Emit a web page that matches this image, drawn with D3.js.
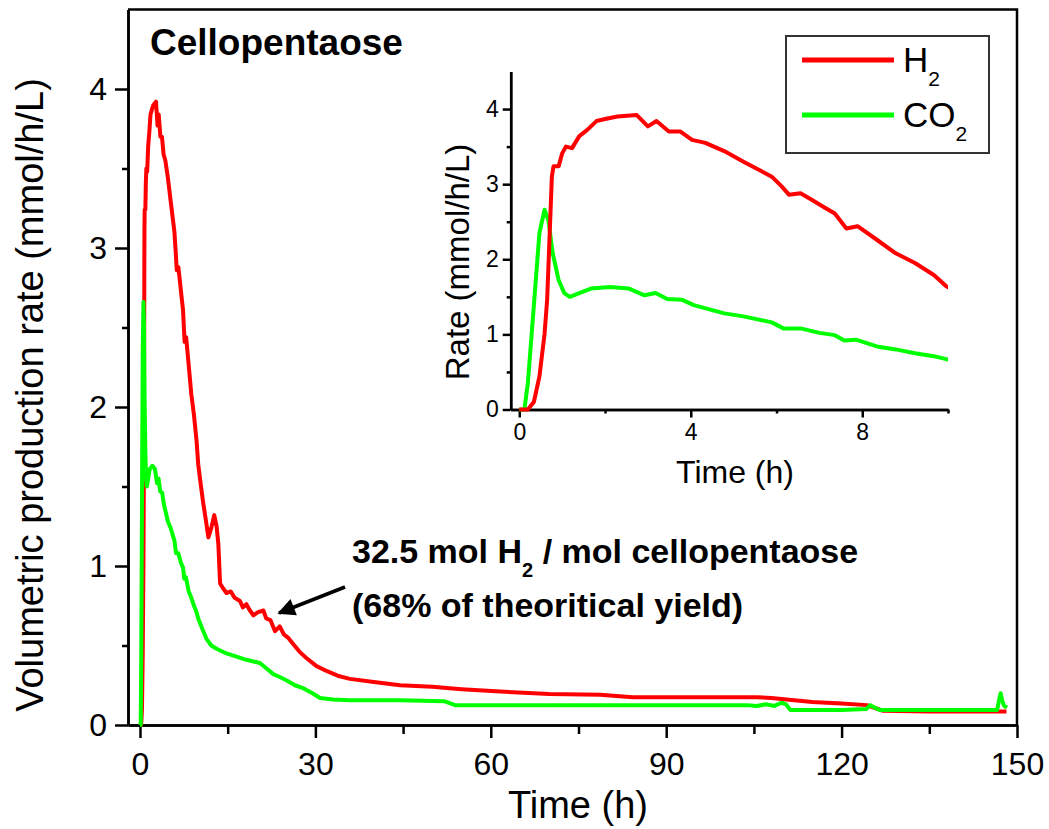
<!DOCTYPE html>
<html lang="en">
<head>
<meta charset="UTF-8">
<title>Cellopentaose H2 / CO2 production rate</title>
<script src="https://d3js.org/d3.v7.min.js"></script>
<style>
  body { margin: 0; background: #fff; }
  svg { display: block; font-family: 'Liberation Sans', Arial, sans-serif; }
  .axis path, .axis line { stroke: #000; stroke-width: 2.5px; }
  .axis text { fill: #000; }
</style>
</head>
<body>
<div id="chart"></div>
<script>
// H2 rate (mmol/h/L) vs time (h)
const h2Time = [0, 0.2, 0.34, 0.47, 0.59, 0.65, 0.71, 0.76, 0.8, 0.92, 1.0, 1.09, 1.23, 1.4, 1.58, 1.8, 2.03, 2.29, 2.74, 3.0, 3.2, 3.49, 3.76, 4.03, 4.34, 4.78, 5.23, 5.89, 6.12, 6.29, 6.56, 6.83, 7.09, 7.36, 7.63, 7.89, 8.34, 8.78, 9.23, 9.67, 9.96,
  10.3, 10.8, 11.3, 11.7, 12.2, 12.7, 13.1, 13.4, 13.7, 14.2, 14.8, 15.5, 16.2, 17.1, 17.6, 18.2, 18.8, 19.4, 20.2, 21.1, 21.6, 22.3, 23.1, 23.9, 24.6, 25.3, 26.2, 27.3, 28.5, 30.2, 31.9, 33.8, 35.9, 40, 44.5, 50, 55, 61.6, 70, 78.7, 84.3, 95, 105.5, 108, 110.6, 115, 120, 124.3, 125.5, 127, 135, 148.2];
const h2Rate = [0, 0, 0.1, 0.44, 1.01, 1.46, 2.35, 3.1, 3.24, 3.24, 3.41, 3.5, 3.48, 3.64, 3.72, 3.84, 3.87, 3.9, 3.92, 3.77, 3.84, 3.7, 3.7, 3.59, 3.55, 3.44, 3.3, 3.1, 2.97, 2.86, 2.88, 2.79, 2.7, 2.61, 2.41, 2.44, 2.26, 2.08, 1.95, 1.79, 1.64,
  1.54, 1.4, 1.28, 1.18, 1.24, 1.32, 1.25, 1.14, 0.89, 0.86, 0.83, 0.84, 0.8, 0.78, 0.74, 0.76, 0.72, 0.69, 0.71, 0.72, 0.67, 0.66, 0.59, 0.62, 0.57, 0.55, 0.51, 0.46, 0.42, 0.37, 0.34, 0.31, 0.29, 0.27, 0.25, 0.24, 0.225, 0.21, 0.195, 0.19, 0.175, 0.175, 0.175, 0.17, 0.16, 0.145, 0.135, 0.125, 0.11, 0.09, 0.085, 0.085];

// CO2 rate (mmol/h/L) vs time (h)
const co2Time = [0, 0.12, 0.2, 0.29, 0.38, 0.47, 0.59, 0.68, 0.78, 0.92, 1.05, 1.18, 1.4, 1.67, 2.12, 2.56, 2.92, 3.18, 3.45, 3.8, 4.07, 4.78, 5.23, 5.89, 6.16, 6.56, 7.0, 7.36, 7.58, 7.85, 8.34, 8.78, 9.23, 9.67, 9.96,
  10.5, 11.4, 12.2, 13.1, 14.8, 16.5, 18.2, 20.5, 21.5, 22.8, 24, 25.1, 26.5, 28, 29.5, 30.8, 33, 35.9, 44.5, 52, 53.9, 70, 90, 103.8, 105.5, 107, 108.5, 109.7, 110.5, 111.2, 120, 124.2, 124.9, 125.6, 126.5, 146.6, 146.9, 147.2, 147.5, 147.8, 148.3];
const co2Rate = [0, 0, 0.35, 1.01, 1.68, 2.35, 2.66, 2.52, 2.08, 1.72, 1.55, 1.5, 1.55, 1.61, 1.63, 1.61, 1.52, 1.55, 1.47, 1.46, 1.39, 1.28, 1.24, 1.16, 1.08, 1.08, 1.02, 0.99, 0.92, 0.93, 0.84, 0.8, 0.75, 0.71, 0.67,
  0.62, 0.54, 0.5, 0.48, 0.45, 0.43, 0.41, 0.39, 0.36, 0.32, 0.3, 0.28, 0.25, 0.23, 0.2, 0.17, 0.16, 0.155, 0.155, 0.15, 0.125, 0.125, 0.125, 0.125, 0.12, 0.13, 0.12, 0.14, 0.13, 0.095, 0.095, 0.1, 0.125, 0.11, 0.095, 0.095, 0.15, 0.2, 0.15, 0.12, 0.11];

const mainXTicks = [0, 30, 60, 90, 120, 150];
const mainYTicks = [0, 1, 2, 3, 4];
const insetXTicks = [0, 4, 8];
const insetYTicks = [0, 1, 2, 3, 4];

const h2 = h2Time.map((t, i) => ({ t, v: h2Rate[i] }));
const co2 = co2Time.map((t, i) => ({ t, v: co2Rate[i] }));

const RED = "#ff0000", GREEN = "#00ff00";
const W = 1049, H = 829;
const fmt = d3.format("d");

const svg = d3.select("#chart").append("svg")
  .attr("width", W).attr("height", H);

// ---- main plot ----
const x = d3.scaleLinear().domain([-2.05, 150]).range([128, 1017]);
const y = d3.scaleLinear().domain([0, 4.5]).range([725, 9.5]);

// frame (top & right)
svg.append("path")
  .attr("d", `M${x.range()[0]},${y.range()[1]}H${x.range()[1]}V${y.range()[0]}`)
  .attr("fill", "none").attr("stroke", "#000").attr("stroke-width", 2.5);

// minor ticks
svg.append("g").attr("class", "axis")
  .attr("transform", `translate(0,${y.range()[0]})`)
  .call(d3.axisBottom(x).tickValues(d3.range(15, 150, 30)).tickSize(9).tickSizeOuter(0).tickFormat(""));
svg.append("g").attr("class", "axis")
  .attr("transform", `translate(${x.range()[0]},0)`)
  .call(d3.axisLeft(y).tickValues(d3.range(0.5, 4.5, 1)).tickSize(6).tickSizeOuter(0).tickFormat(""));

const gx = svg.append("g").attr("class", "axis")
  .attr("transform", `translate(0,${y.range()[0]})`)
  .call(d3.axisBottom(x).tickValues(mainXTicks).tickFormat(fmt).tickSize(13).tickSizeOuter(0).tickPadding(14));
gx.selectAll("text").attr("font-size", 32);

const gy = svg.append("g").attr("class", "axis")
  .attr("transform", `translate(${x.range()[0]},0)`)
  .call(d3.axisLeft(y).tickValues(mainYTicks).tickFormat(fmt).tickSize(13).tickSizeOuter(0).tickPadding(8));
gy.selectAll("text").attr("font-size", 32);

svg.append("text")
  .attr("x", 578).attr("y", 818)
  .attr("text-anchor", "middle").attr("font-size", 38)
  .text("Time (h)");

svg.append("text")
  .attr("transform", "translate(43,395) rotate(-90)")
  .attr("text-anchor", "middle").attr("font-size", 38)
  .text("Volumetric production rate (mmol/h/L)");

svg.append("text")
  .attr("x", 150).attr("y", 55)
  .attr("font-size", 37).attr("font-weight", "bold")
  .text("Cellopentaose");

const line = d3.line().x(d => x(d.t)).y(d => y(d.v));
svg.append("path").datum(h2)
  .attr("d", line).attr("fill", "none")
  .attr("stroke", RED).attr("stroke-width", 4).attr("stroke-linejoin", "round");
svg.append("path").datum(co2)
  .attr("d", line).attr("fill", "none")
  .attr("stroke", GREEN).attr("stroke-width", 4).attr("stroke-linejoin", "round");

// annotation
const ann = svg.append("text").attr("x", 352).attr("y", 563)
  .attr("font-size", 34).attr("font-weight", "bold");
ann.append("tspan").text("32.5 mol H");
ann.append("tspan").attr("font-size", 20).attr("dy", 14).text("2");
ann.append("tspan").attr("dy", -14).text(" / mol cellopentaose");
svg.append("text").attr("x", 352).attr("y", 617)
  .attr("font-size", 34).attr("font-weight", "bold")
  .text("(68% of theoritical yield)");

svg.append("defs").append("marker")
  .attr("id", "arrow").attr("viewBox", "0 0 10 10")
  .attr("refX", 9).attr("refY", 5)
  .attr("markerWidth", 6).attr("markerHeight", 5)
  .attr("markerUnits", "strokeWidth")
  .attr("orient", "auto")
  .append("path").attr("d", "M0,0L10,5L0,10z").attr("fill", "#000");
svg.append("line")
  .attr("x1", 345).attr("y1", 587).attr("x2", 279).attr("y2", 613)
  .attr("stroke", "#000").attr("stroke-width", 3.5)
  .attr("marker-end", "url(#arrow)");

// ---- inset ----
const xi = d3.scaleLinear().domain([-0.2, 10]).range([510.7, 948]);
const yi = d3.scaleLinear().domain([0, 4.5]).range([409.5, 71.5]);

svg.append("defs").append("clipPath").attr("id", "insetClip")
  .append("rect").attr("x", xi.range()[0]).attr("y", 60)
  .attr("width", xi.range()[1] - xi.range()[0]).attr("height", yi.range()[0] - 60 + 4);

svg.append("g").attr("class", "axis inset")
  .attr("transform", `translate(0,${yi.range()[0]})`)
  .call(d3.axisBottom(xi).tickValues([2, 6, 10]).tickSize(4).tickSizeOuter(0).tickFormat(""));
svg.append("g").attr("class", "axis inset")
  .attr("transform", `translate(${xi.range()[0]},0)`)
  .call(d3.axisLeft(yi).tickValues(d3.range(0.5, 4.5, 1)).tickSize(4).tickSizeOuter(0).tickFormat(""));

const gxi = svg.append("g").attr("class", "axis inset")
  .attr("transform", `translate(0,${yi.range()[0]})`)
  .call(d3.axisBottom(xi).tickValues(insetXTicks).tickFormat(fmt).tickSize(8).tickSizeOuter(0).tickPadding(6));
gxi.selectAll("text").attr("font-size", 23);
const gyi = svg.append("g").attr("class", "axis inset")
  .attr("transform", `translate(${xi.range()[0]},0)`)
  .call(d3.axisLeft(yi).tickValues(insetYTicks).tickFormat(fmt).tickSize(8).tickSizeOuter(0).tickPadding(4));
gyi.selectAll("text").attr("font-size", 23);
svg.selectAll(".inset path, .inset line").attr("stroke-width", 2);

svg.append("text")
  .attr("x", 735).attr("y", 483)
  .attr("text-anchor", "middle").attr("font-size", 32)
  .text("Time (h)");
svg.append("text")
  .attr("transform", "translate(469,262) rotate(-90)")
  .attr("text-anchor", "middle").attr("font-size", 33)
  .text("Rate (mmol/h/L)");

const lineI = d3.line().x(d => xi(d.t)).y(d => yi(d.v));
const insetG = svg.append("g").attr("clip-path", "url(#insetClip)");
insetG.append("path").datum(co2)
  .attr("d", lineI).attr("fill", "none")
  .attr("stroke", GREEN).attr("stroke-width", 4).attr("stroke-linejoin", "round");
insetG.append("path").datum(h2)
  .attr("d", lineI).attr("fill", "none")
  .attr("stroke", RED).attr("stroke-width", 4).attr("stroke-linejoin", "round");

// ---- legend ----
const legend = svg.append("g");
legend.append("rect")
  .attr("x", 786).attr("y", 36).attr("width", 203).attr("height", 117)
  .attr("fill", "#fff").attr("stroke", "#333").attr("stroke-width", 2);
const legendItems = [
  { name: "H", color: RED, ly: 60 },
  { name: "CO", color: GREEN, ly: 115 }
];
legendItems.forEach(d => {
  legend.append("line")
    .attr("x1", 802).attr("x2", 894).attr("y1", d.ly).attr("y2", d.ly)
    .attr("stroke", d.color).attr("stroke-width", 5);
  const t = legend.append("text").attr("x", 903).attr("y", d.ly + 12)
    .attr("font-size", 35);
  t.append("tspan").text(d.name);
  t.append("tspan").attr("font-size", 21).attr("dy", 14).text("2");
});
</script>
</body>
</html>
